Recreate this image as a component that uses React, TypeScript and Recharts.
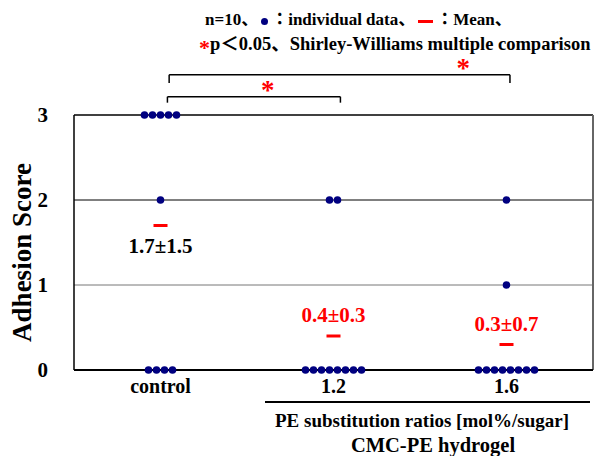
import React from "react"
import {
  ScatterChart,
  Scatter,
  XAxis,
  YAxis,
  ReferenceLine,
  ReferenceDot,
} from "recharts"

// groups on the x axis
const groups = ["control", "1.2", "1.6"]

// individual adhesion scores, n=10 per group
const controlScores = [3, 3, 3, 3, 3, 2, 0, 0, 0, 0]
const pe12Scores = [2, 2, 0, 0, 0, 0, 0, 0, 0, 0]
const pe16Scores = [2, 1, 0, 0, 0, 0, 0, 0, 0, 0]

// mean and SD shown next to each group
const means = [1.7, 0.4, 0.3]
const sds = [1.5, 0.3, 0.7]

const yTicks = [0, 1, 2, 3]

// significance brackets (x in group units, y in score units)
const brackets = [
  { from: 0.54, to: 1.54, y: 3.215, leg: 3.145, star: 1.12, starY: 3.3 },
  { from: 0.55, to: 2.52, y: 3.474, leg: 3.376, star: 2.25, starY: 3.55 },
]

const FONT = '"Times New Roman", "Liberation Serif", "Noto Sans CJK JP", serif'
const NAVY = "#000080"
const RED = "#ff0000"

const allScores = [controlScores, pe12Scores, pe16Scores]

// stack equal values side by side (simple beeswarm)
const dots = allScores.flatMap((scores, g) => {
  const counts: Record<number, number> = {}
  scores.forEach((s) => (counts[s] = (counts[s] || 0) + 1))
  const seen: Record<number, number> = {}
  return scores.map((s) => {
    const rank = seen[s] || 0
    seen[s] = rank + 1
    return { x: g + 0.5, y: s, rank, count: counts[s] }
  })
})

const meanData = means.map((m, i) => ({ x: i + 0.5, y: m, sd: sds[i], idx: i }))

const DotShape = (props: any) => {
  const { cx, cy, payload } = props
  const off = (payload.rank - (payload.count - 1) / 2) * 8
  return <circle cx={cx + off} cy={cy} r={3.8} fill={NAVY} />
}

const MeanShape = (props: any) => {
  const { cx, cy, payload } = props
  const below = payload.idx === 0
  const label = `${payload.y.toFixed(1)}±${payload.sd.toFixed(1)}`
  return (
    <g>
      <rect x={cx - 7} y={cy - 1.5} width={14} height={3} fill={RED} />
      <text
        x={cx}
        y={below ? cy + 20 : cy - 21}
        textAnchor="middle"
        dominantBaseline="central"
        fontFamily={FONT}
        fontWeight="bold"
        fontSize={21}
        fill={below ? "#000" : RED}
      >
        {label}
      </text>
    </g>
  )
}

const StarShape = (props: any) => (
  <text
    x={props.cx}
    y={props.cy + 9}
    textAnchor="middle"
    fontFamily={FONT}
    fontWeight="bold"
    fontSize={27}
    fill={RED}
  >
    *
  </text>
)

export default function App() {
  return (
    <div style={{ position: "absolute", left: 0, top: 0, width: 599, height: 456, fontFamily: FONT, background: "#fff" }}>
      <div style={{ position: "absolute", left: 205, top: 5, fontSize: 17, fontWeight: "bold", whiteSpace: "nowrap" }}>
        n=10、
        <span style={{ display: "inline-block", width: 7, height: 7, borderRadius: 4, background: NAVY, margin: "0 3px" }} />
        ：individual data、
        <span style={{ display: "inline-block", width: 15, height: 3, background: RED, verticalAlign: "middle", margin: "0 3px" }} />
        ：Mean、
      </div>
      <div style={{ position: "absolute", left: 199, top: 29, fontSize: 18.5, fontWeight: "bold", whiteSpace: "nowrap" }}>
        <span style={{ color: RED, fontSize: 22, verticalAlign: "-5px" }}>*</span>p＜0.05、Shirley-Williams multiple comparison
      </div>

      <ScatterChart width={599} height={456} margin={{ top: 115, right: 6, bottom: 56, left: 0 }}>
        <XAxis
          type="number"
          dataKey="x"
          domain={[0, 3]}
          ticks={[0.5, 1.5, 2.5]}
          tickFormatter={(v: number) => groups[Math.floor(v)]}
          height={30}
          axisLine={{ stroke: "#000", strokeWidth: 2 }}
          tickLine={false}
          tickSize={0}
          tickMargin={9}
          tick={{ fill: "#000", fontSize: 20, fontWeight: "bold", fontFamily: FONT }}
        />
        <YAxis
          type="number"
          dataKey="y"
          domain={[0, 3]}
          ticks={yTicks}
          width={74}
          axisLine={{ stroke: "#000", strokeWidth: 1.5 }}
          tickLine={false}
          tickSize={0}
          tickMargin={26}
          tick={{ fill: "#000", fontSize: 21, fontWeight: "bold", fontFamily: FONT }}
          label={(p: any) => {
            const vb = p.viewBox
            const cy = vb.y + vb.height / 2 + 10
            return (
              <text
                x={22}
                y={cy}
                transform={`rotate(-90 22 ${cy})`}
                textAnchor="middle"
                dominantBaseline="central"
                fontFamily={FONT}
                fontWeight="bold"
                fontSize={27}
                fill="#000"
              >
                Adhesion Score
              </text>
            )
          }}
        />
        <ReferenceLine y={1} stroke="#777" strokeWidth={1} />
        <ReferenceLine y={2} stroke="#000" strokeWidth={1} />
        <ReferenceLine y={3} stroke="#000" strokeWidth={1.5} />
        <ReferenceLine x={3} stroke="#666" strokeWidth={2} />

        {brackets.flatMap((b, i) => [
          <ReferenceLine key={`h${i}`} ifOverflow="visible" stroke="#000" strokeWidth={1.5}
            segment={[{ x: b.from, y: b.y }, { x: b.to, y: b.y }]} />,
          <ReferenceLine key={`l${i}`} ifOverflow="visible" stroke="#000" strokeWidth={1.5}
            segment={[{ x: b.from, y: b.y }, { x: b.from, y: b.leg }]} />,
          <ReferenceLine key={`r${i}`} ifOverflow="visible" stroke="#000" strokeWidth={1.5}
            segment={[{ x: b.to, y: b.y }, { x: b.to, y: b.leg }]} />,
          <ReferenceDot key={`s${i}`} ifOverflow="visible" x={b.star} y={b.starY} shape={StarShape} />,
        ])}

        <Scatter data={dots} shape={DotShape} isAnimationActive={false} />
        <Scatter data={meanData} shape={MeanShape} isAnimationActive={false} />
      </ScatterChart>

      <div style={{ position: "absolute", left: 265, top: 401, width: 325, borderTop: "2px solid #000" }} />
      <div style={{ position: "absolute", left: 262, top: 408, width: 320, textAlign: "center", fontSize: 19, fontWeight: "bold", lineHeight: "25px", whiteSpace: "nowrap" }}>
        PE substitution ratios [mol%/sugar]
        <br />
        <span style={{ paddingLeft: 22, fontSize: 20.5 }}>CMC-PE hydrogel</span>
      </div>
    </div>
  )
}
